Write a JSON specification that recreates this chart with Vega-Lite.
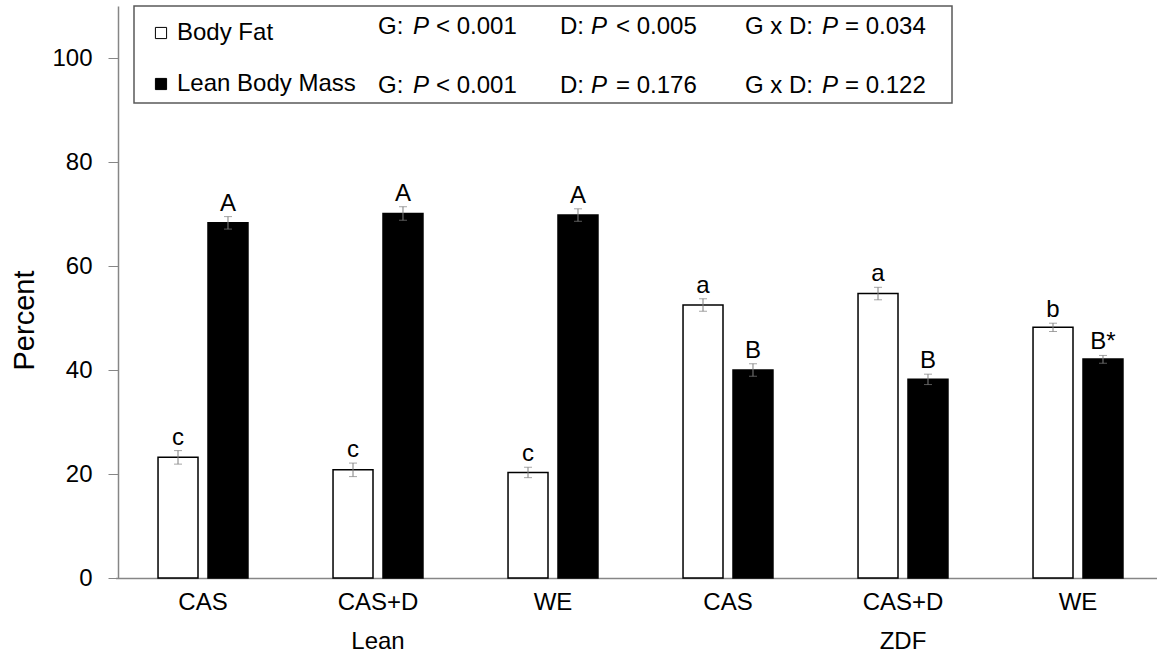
{
  "$schema": "https://vega.github.io/schema/vega-lite/v6.json",
  "width": 1039,
  "height": 572,
  "autosize": {"type": "none"},
  "padding": {"left": 118, "top": 6, "right": 0, "bottom": 81},
  "background": "white",
  "config": {
    "font": "Liberation Sans",
    "view": {"stroke": null},
    "axis": {"grid": false}
  },
  "datasets": {
    "bars": [
      {"grp": "Lean|CAS", "comp": "Body Fat", "mean": 23.2, "lo": 21.9, "hi": 24.5, "letter": "c"},
      {"grp": "Lean|CAS", "comp": "Lean Body Mass", "mean": 68.3, "lo": 67.1, "hi": 69.5, "letter": "A"},
      {"grp": "Lean|CAS+D", "comp": "Body Fat", "mean": 20.8, "lo": 19.5, "hi": 22.1, "letter": "c"},
      {"grp": "Lean|CAS+D", "comp": "Lean Body Mass", "mean": 70.1, "lo": 68.8, "hi": 71.4, "letter": "A"},
      {"grp": "Lean|WE", "comp": "Body Fat", "mean": 20.3, "lo": 19.3, "hi": 21.3, "letter": "c"},
      {"grp": "Lean|WE", "comp": "Lean Body Mass", "mean": 69.8, "lo": 68.6, "hi": 71.0, "letter": "A"},
      {"grp": "ZDF|CAS", "comp": "Body Fat", "mean": 52.5, "lo": 51.3, "hi": 53.7, "letter": "a"},
      {"grp": "ZDF|CAS", "comp": "Lean Body Mass", "mean": 40.0, "lo": 38.8, "hi": 41.2, "letter": "B"},
      {"grp": "ZDF|CAS+D", "comp": "Body Fat", "mean": 54.7, "lo": 53.5, "hi": 55.9, "letter": "a"},
      {"grp": "ZDF|CAS+D", "comp": "Lean Body Mass", "mean": 38.2, "lo": 37.2, "hi": 39.2, "letter": "B"},
      {"grp": "ZDF|WE", "comp": "Body Fat", "mean": 48.2, "lo": 47.4, "hi": 49.0, "letter": "b"},
      {"grp": "ZDF|WE", "comp": "Lean Body Mass", "mean": 42.1, "lo": 41.3, "hi": 42.8, "letter": "B*"}
    ],
    "box": [
      {"bx": 1.54, "bx2": 80.27, "by": 91.35, "by2": 110}
    ],
    "plain": [
      {"px": 25.03, "py": 104.6, "t": "G:"},
      {"px": 30.61, "py": 104.6, "t": "< 0.001"},
      {"px": 42.54, "py": 104.6, "t": "D:"},
      {"px": 47.93, "py": 104.6, "t": "< 0.005"},
      {"px": 60.35, "py": 104.6, "t": "G x D:"},
      {"px": 69.97, "py": 104.6, "t": "= 0.034"},
      {"px": 25.03, "py": 93.27, "t": "G:"},
      {"px": 30.61, "py": 93.27, "t": "< 0.001"},
      {"px": 42.54, "py": 93.27, "t": "D:"},
      {"px": 47.93, "py": 93.27, "t": "= 0.176"},
      {"px": 60.35, "py": 93.27, "t": "G x D:"},
      {"px": 69.97, "py": 93.27, "t": "= 0.122"}
    ],
    "ital": [
      {"px": 28.39, "py": 104.6, "t": "P"},
      {"px": 45.53, "py": 104.6, "t": "P"},
      {"px": 67.76, "py": 104.6, "t": "P"},
      {"px": 28.39, "py": 93.27, "t": "P"},
      {"px": 45.53, "py": 93.27, "t": "P"},
      {"px": 67.76, "py": 93.27, "t": "P"}
    ]
  },
  "layer": [
    {
      "data": {"name": "bars"},
      "encoding": {
        "x": {
          "field": "grp",
          "type": "nominal",
          "sort": ["Lean|CAS", "Lean|CAS+D", "Lean|WE", "ZDF|CAS", "ZDF|CAS+D", "ZDF|WE"],
          "scale": {"range": [-2.5, 1047.5], "paddingInner": 0.486, "paddingOuter": 0.243},
          "axis": {
            "title": null,
            "ticks": false,
            "domainColor": "#868686",
            "domainWidth": 1.5,
            "labelFontSize": 24,
            "labelColor": "black",
            "labelPadding": 12,
            "labelLineHeight": 39,
            "labelAngle": 0,
            "labelExpr": "indexof(datum.value, 'CAS+D') >= 0 ? [split(datum.value, '|')[1], split(datum.value, '|')[0]] : split(datum.value, '|')[1]"
          }
        },
        "xOffset": {
          "field": "comp",
          "type": "nominal",
          "sort": ["Body Fat", "Lean Body Mass"],
          "scale": {"paddingInner": 0.2, "paddingOuter": 0}
        }
      },
      "layer": [
        {
          "mark": {"type": "bar", "stroke": "black", "strokeWidth": 1.5},
          "encoding": {
            "y": {
              "field": "mean",
              "type": "quantitative",
              "scale": {"domain": [0, 110], "nice": false},
              "axis": {
                "values": [0, 20, 40, 60, 80, 100],
                "domainColor": "#868686",
                "domainWidth": 1.5,
                "tickColor": "#868686",
                "tickSize": 10,
                "labelFontSize": 24,
                "labelColor": "black",
                "labelPadding": 16,
                "title": "Percent",
                "titleFontSize": 29,
                "titleFontWeight": "normal",
                "titleColor": "black",
                "titleAngle": -90,
                "titleAlign": "center",
                "titleBaseline": "alphabetic",
                "titleX": -85,
                "titleY": 314
              }
            },
            "fill": {
              "field": "comp",
              "type": "nominal",
              "scale": {"domain": ["Body Fat", "Lean Body Mass"], "range": ["white", "black"]},
              "legend": {
                "orient": "none",
                "legendX": 31,
                "legendY": 15,
                "title": null,
                "padding": 0,
                "symbolType": "square",
                "symbolSize": 125,
                "symbolStrokeColor": "black",
                "symbolStrokeWidth": 1,
                "labelFontSize": 24,
                "labelColor": "black",
                "labelOffset": 4,
                "rowPadding": 27,
                "labelLimit": 400
              }
            }
          }
        },
        {
          "mark": {"type": "rule", "color": "#7f7f7f", "strokeWidth": 1},
          "encoding": {
            "y": {"field": "lo", "type": "quantitative"},
            "y2": {"field": "hi"}
          }
        },
        {
          "mark": {"type": "tick", "color": "#7f7f7f", "thickness": 1, "size": 8, "orient": "horizontal"},
          "encoding": {"y": {"field": "lo", "type": "quantitative"}}
        },
        {
          "mark": {"type": "tick", "color": "#7f7f7f", "thickness": 1, "size": 8, "orient": "horizontal"},
          "encoding": {"y": {"field": "hi", "type": "quantitative"}}
        },
        {
          "mark": {"type": "text", "fontSize": 24, "baseline": "alphabetic", "align": "center", "dy": -6, "color": "black"},
          "encoding": {
            "y": {"field": "hi", "type": "quantitative"},
            "text": {"field": "letter"}
          }
        }
      ]
    },
    {
      "layer": [
        {
          "data": {"name": "box"},
          "mark": {"type": "rect", "fill": null, "stroke": "#595959", "strokeWidth": 1.5},
          "encoding": {
            "x": {"field": "bx", "type": "quantitative", "scale": {"domain": [0, 100], "nice": false}, "axis": null},
            "x2": {"field": "bx2"},
            "y": {"field": "by", "type": "quantitative"},
            "y2": {"field": "by2"}
          }
        },
        {
          "data": {"name": "plain"},
          "mark": {"type": "text", "fontSize": 24, "align": "left", "baseline": "alphabetic", "color": "black"},
          "encoding": {
            "x": {"field": "px", "type": "quantitative", "scale": {"domain": [0, 100], "nice": false}, "axis": null},
            "y": {"field": "py", "type": "quantitative"},
            "text": {"field": "t"}
          }
        },
        {
          "data": {"name": "ital"},
          "mark": {"type": "text", "fontSize": 24, "fontStyle": "italic", "align": "left", "baseline": "alphabetic", "color": "black"},
          "encoding": {
            "x": {"field": "px", "type": "quantitative", "scale": {"domain": [0, 100], "nice": false}, "axis": null},
            "y": {"field": "py", "type": "quantitative"},
            "text": {"field": "t"}
          }
        }
      ]
    }
  ],
  "resolve": {"scale": {"x": "independent"}}
}
